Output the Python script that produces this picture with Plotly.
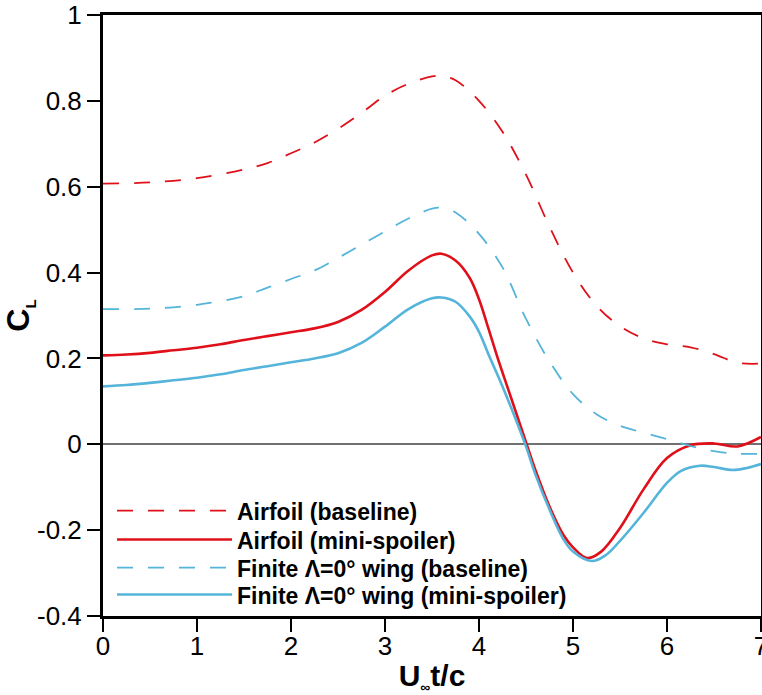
import plotly.graph_objects as go

# Lift coefficient histories vs convective time U∞t/c
airfoil_base_t = [0, 0.5, 1.0, 1.5, 1.75, 2.0, 2.25, 2.5, 2.75, 3.0, 3.25, 3.5, 3.6, 3.75,
                  4.0, 4.25, 4.5, 4.75, 5.0, 5.25, 5.5, 5.75, 6.0, 6.25, 6.5, 6.75, 7.0]
airfoil_base_cl = [0.607, 0.610, 0.620, 0.640, 0.655, 0.678, 0.703, 0.735, 0.772, 0.812, 0.840,
                   0.857, 0.858, 0.848, 0.800, 0.728, 0.628, 0.507, 0.400, 0.323, 0.275, 0.247,
                   0.233, 0.226, 0.210, 0.190, 0.188]

airfoil_spoiler_t = [0, 0.25, 0.5, 0.75, 1.0, 1.25, 1.5, 1.75, 2.0, 2.25, 2.5, 2.75, 3.0, 3.25,
                     3.5, 3.6, 3.75, 3.9, 4.0, 4.1, 4.2, 4.3, 4.4, 4.5, 4.6, 4.75, 4.9, 5.0,
                     5.15, 5.3, 5.5, 5.75, 6.0, 6.25, 6.5, 6.75, 7.0]
airfoil_spoiler_cl = [0.207, 0.209, 0.213, 0.219, 0.225, 0.233, 0.243, 0.252, 0.261, 0.270,
                      0.285, 0.313, 0.355, 0.405, 0.440, 0.444, 0.428, 0.388, 0.338, 0.270,
                      0.200, 0.135, 0.070, 0.005, -0.060, -0.145, -0.212, -0.240, -0.265,
                      -0.250, -0.195, -0.105, -0.032, -0.002, 0.002, -0.005, 0.017]

wing_base_t = [0, 0.5, 1.0, 1.5, 1.75, 2.0, 2.25, 2.5, 2.75, 3.0, 3.25, 3.5, 3.6, 3.75, 4.0,
               4.25, 4.5, 4.75, 5.0, 5.25, 5.5, 5.75, 6.0, 6.25, 6.5, 6.75, 7.0]
wing_base_cl = [0.315, 0.316, 0.325, 0.345, 0.365, 0.385, 0.405, 0.434, 0.465, 0.496, 0.526,
                0.549, 0.551, 0.540, 0.490, 0.412, 0.292, 0.193, 0.117, 0.070, 0.043, 0.027,
                0.012, -0.004, -0.016, -0.022, -0.022]

wing_spoiler_t = [0, 0.25, 0.5, 0.75, 1.0, 1.25, 1.5, 1.75, 2.0, 2.25, 2.5, 2.75, 3.0, 3.25,
                  3.5, 3.6, 3.75, 3.9, 4.0, 4.1, 4.2, 4.3, 4.4, 4.5, 4.6, 4.75, 4.9, 5.0,
                  5.2, 5.35, 5.5, 5.75, 6.0, 6.15, 6.35, 6.5, 6.7, 6.85, 7.0]
wing_spoiler_cl = [0.135, 0.138, 0.143, 0.149, 0.155, 0.163, 0.173, 0.182, 0.191, 0.200, 0.212,
                   0.236, 0.274, 0.315, 0.340, 0.342, 0.332, 0.298, 0.262, 0.210, 0.160, 0.108,
                   0.053, -0.005, -0.070, -0.152, -0.222, -0.250, -0.272, -0.258, -0.225,
                   -0.160, -0.090, -0.062, -0.050, -0.053, -0.060, -0.055, -0.046]

x_ticks = [0, 1, 2, 3, 4, 5, 6, 7]
y_ticks = [-0.4, -0.2, 0, 0.2, 0.4, 0.6, 0.8, 1]
y_tick_text = ["-0.4", "-0.2", "0", "0.2", "0.4", "0.6", "0.8", "1"]

RED = "#E0101A"
CYAN = "#55B4DA"
FONT = "Liberation Sans, Arial, sans-serif"

# one legend box per entry so each row sits at its own height
legend_rows_y = [0.1754, 0.1271, 0.0805, 0.0356]

series = [
    ("Airfoil (baseline)", airfoil_base_t, airfoil_base_cl, RED, "16px,15px", 1.8),
    ("Airfoil (mini-spoiler)", airfoil_spoiler_t, airfoil_spoiler_cl, RED, "solid", 2.6),
    ("Finite \u039b=0\u00b0 wing (baseline)", wing_base_t, wing_base_cl, CYAN, "16px,15px", 1.8),
    ("Finite \u039b=0\u00b0 wing (mini-spoiler)", wing_spoiler_t, wing_spoiler_cl, CYAN, "solid", 2.6),
]

fig = go.Figure()
legend_layouts = {}
for i, (name, t, cl, color, dash, width) in enumerate(series):
    key = "legend" if i == 0 else f"legend{i + 1}"
    fig.add_trace(go.Scatter(
        x=t, y=cl, mode="lines", name=name, legend=key,
        line=dict(color=color, dash=dash, width=width, shape="spline", smoothing=1.0),
    ))
    legend_layouts[key] = dict(
        x=0.0137, y=legend_rows_y[i], xanchor="left", yanchor="middle",
        bgcolor="rgba(0,0,0,0)", borderwidth=0,
        font=dict(family=FONT, size=23, color="black", weight="bold"),
        itemwidth=115,
    )

axis_common = dict(
    showgrid=False, showline=True, linecolor="black", linewidth=3, mirror=True,
    ticks="outside", ticklen=13, tickwidth=2, tickcolor="black",
    tickfont=dict(family=FONT, size=26, color="black"),
    automargin=False,
)

fig.update_layout(
    width=762, height=695,
    margin=dict(l=103, r=1, t=15, b=79),
    plot_bgcolor="white", paper_bgcolor="white",
    font=dict(family=FONT, color="black"),
    xaxis=dict(
        range=[0, 7], tickvals=x_ticks, zeroline=False,
        ticklabeloverflow="allow", ticklabelstandoff=-8,
        title=dict(text="U<sub><span style='font-size:14px'>\u221e</span></sub>t/c",
                   font=dict(family=FONT, size=30, weight="bold"), standoff=6),
        **axis_common,
    ),
    yaxis=dict(
        range=[-0.4, 1], tickvals=y_ticks, ticktext=y_tick_text,
        zeroline=True, zerolinecolor="#707070", zerolinewidth=1.5,
        title=dict(text="C<sub><span style='font-size:15px'>L</span></sub>",
                   font=dict(family=FONT, size=32, weight="bold"), standoff=4),
        **axis_common,
    ),
    showlegend=True,
    **legend_layouts,
)

fig.write_html("out.html")
